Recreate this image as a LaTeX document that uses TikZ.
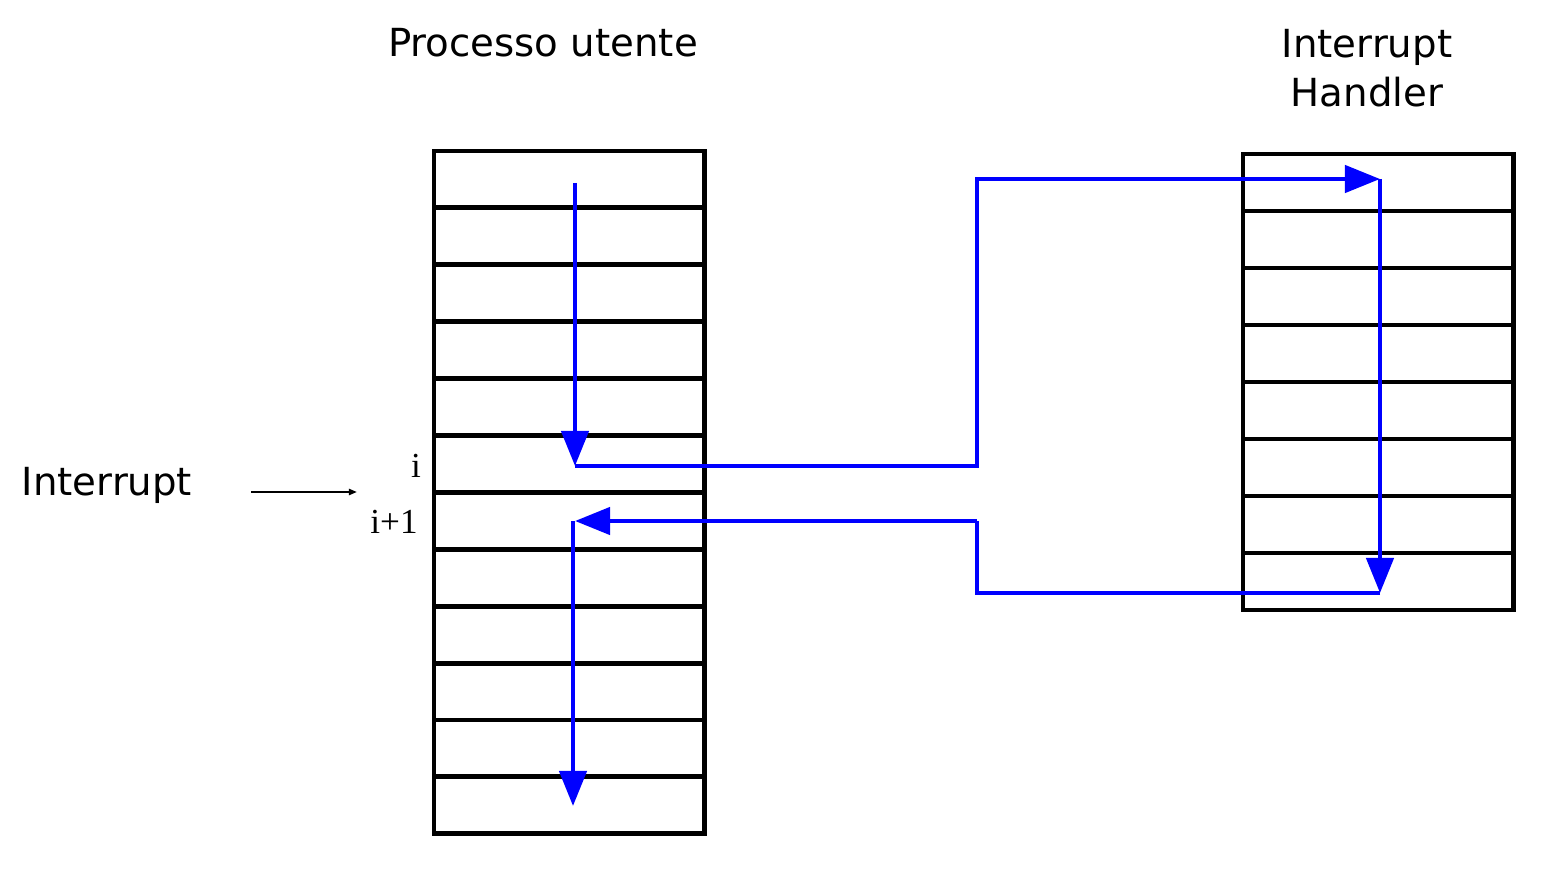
\documentclass[tikz,border=0pt]{standalone}
\usepackage{fontspec}
\setmainfont{DejaVu Sans}
\newfontfamily\timesfont{Liberation Serif}
\usetikzlibrary{arrows.meta}
\begin{document}
\begin{tikzpicture}[x=0.01cm,y=-0.01cm,
  cell/.style={draw=black,line width=1.4pt,minimum width=2.70cm,minimum height=0.57cm,inner sep=0pt,outer sep=0pt,anchor=north west},
  flow/.style={draw={rgb,255:red,0;green,0;blue,255},line width=1.25pt},
  flowarrow/.style={flow,-{Triangle[length=0.35cm,width=0.27cm]}},
  title/.style={font=\fontsize{11}{14}\selectfont,align=center},
  idx/.style={font=\timesfont\fontsize{10}{12}\selectfont}]
\useasboundingbox (0,0) rectangle (1563,870);
% left column
\foreach \k in {0,...,11} {
  \node[cell,minimum height=0.569cm] (L\k) at (434,{151+56.9*\k}) {};
}
% right column
\foreach \k in {0,...,7} {
  \node[cell] (R\k) at (1243,{154+57*\k}) {};
}
\node[title] (t1) at (543,43) {Processo utente};
\node[title] (t2) at (1367,68) {Interrupt\\Handler};
\node[title] (t3) at (107,485) {Interrupt};
\node[idx] (i0) at (416,466) {i};
\node[idx] (i1) at (394,522) {i+1};
\coordinate (ia) at (251,492);
\coordinate (ib) at (357,492);
\draw[line width=0.6pt,-{Triangle[length=0.08cm,width=0.06cm]}] (ia) -- (ib);
% flow
\coordinate (a0) at (575,183);
\coordinate (a1) at (575,466);
\coordinate (b1) at (977,466);
\coordinate (b2) at (977,179);
\coordinate (c0) at (1380,179);
\coordinate (c1) at (1380,593);
\coordinate (d1) at (977,593);
\coordinate (d2) at (977,521);
\coordinate (e0) at (575,521);
\coordinate (e1) at (573,521);
\coordinate (f0) at (573,806);
\draw[flowarrow] (a0) -- (a1);
\draw[flow] (a1) -- (b1) -- (b2) -- (1360,179);
\draw[flowarrow] (b2) -- (c0);
\draw[flowarrow] (c0) -- (c1);
\draw[flow] (c1) -- (d1) -- (d2);
\draw[flowarrow] (d2) -- (e0);
\draw[flowarrow] (e1) -- (f0);
\end{tikzpicture}
\end{document}
